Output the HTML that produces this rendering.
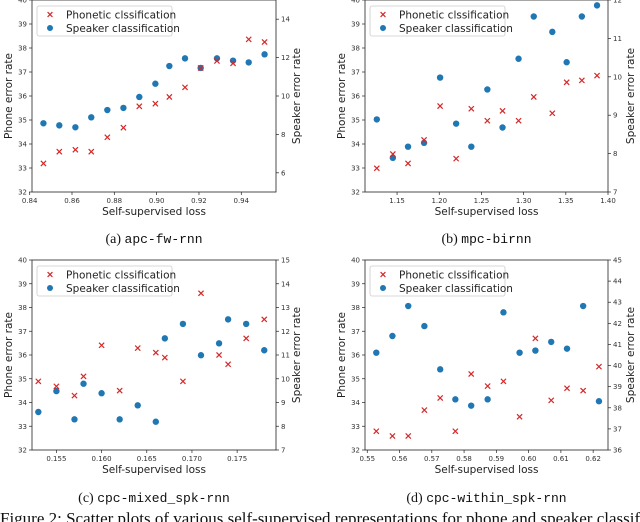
<!DOCTYPE html>
<html><head><meta charset="utf-8">
<style>
html,body{margin:0;padding:0;background:#fff;width:640px;height:522px;overflow:hidden}
svg{display:block}
text{font-family:"DejaVu Sans","Liberation Sans",sans-serif}
.cap{font-family:"Liberation Serif",serif;font-size:14px}
.mono{font-family:"Liberation Mono",monospace}
</style></head><body>
<svg id="fig" width="640" height="522" viewBox="0 0 640 522" xmlns="http://www.w3.org/2000/svg"></svg>
<script>
// Panel a: apc-fw-rnn
const aLoss=[0.8465,0.854,0.8616,0.8691,0.8767,0.8843,0.8918,0.8994,0.906,0.9134,0.9208,0.9285,0.9361,0.9435,0.951];
const aPhone=[33.19,33.68,33.76,33.68,34.28,34.68,35.57,35.68,35.96,36.36,37.17,37.46,37.36,38.36,38.25];
const aSpk=[8.58,8.47,8.37,8.89,9.27,9.38,9.95,10.64,11.56,11.96,11.46,11.96,11.84,11.75,12.17];
const aXTicks=[0.84,0.86,0.88,0.90,0.92,0.94];
const aRTicks=[6,8,10,12,14];
// Panel b: mpc-birnn
const bLoss=[1.126,1.145,1.163,1.182,1.201,1.220,1.238,1.257,1.275,1.294,1.312,1.334,1.351,1.369,1.387];
const bPhone=[32.99,33.58,33.19,34.17,35.58,33.39,35.47,34.97,35.38,34.97,35.96,35.28,36.57,36.65,36.85];
const bSpk=[8.89,7.89,8.18,8.28,9.98,8.78,8.18,9.67,8.68,10.47,11.57,11.17,10.38,11.57,11.86];
const bXTicks=[1.15,1.20,1.25,1.30,1.35,1.40];
const bRTicks=[7,8,9,10,11,12];
// Panel c: cpc-mixed_spk-rnn
const cLoss=[0.153,0.155,0.157,0.158,0.160,0.162,0.164,0.166,0.167,0.169,0.171,0.173,0.174,0.176,0.178];
const cPhone=[34.89,34.68,34.29,35.10,36.41,34.50,36.29,36.10,35.89,34.89,38.60,36.0,35.61,36.70,37.50];
const cSpk=[8.60,9.48,8.29,9.79,9.39,8.29,8.88,8.19,11.70,12.31,10.99,11.49,12.50,12.31,11.20];
const cXTicks=[0.155,0.160,0.165,0.170,0.175];
const cRTicks=[7,8,9,10,11,12,13,14,15];
// Panel d: cpc-within_spk-rnn
const dLoss=[0.5528,0.5578,0.5627,0.5677,0.5726,0.5773,0.5822,0.5873,0.5922,0.5972,0.6021,0.607,0.6119,0.6169,0.6218];
const dPhone=[32.79,32.59,32.59,33.68,34.19,32.79,35.2,34.69,34.89,33.40,36.70,34.09,34.60,34.50,35.51];
const dSpk=[40.61,41.40,42.82,41.87,39.82,38.40,38.10,38.40,42.52,40.61,40.71,41.12,40.80,42.82,38.31];
const dXTicks=[0.55,0.56,0.57,0.58,0.59,0.60,0.61,0.62];
const dRTicks=[36,37,38,39,40,41,42,43,44,45];
const lTicks=[32,33,34,35,36,37,38,39,40];

const NS="http://www.w3.org/2000/svg";
const svg=document.getElementById('fig');
function mk(tag,attrs,parent){const e=document.createElementNS(NS,tag);for(const k in attrs)e.setAttribute(k,attrs[k]);(parent||svg).appendChild(e);return e;}

function panel(p){
  const g=mk('g',{});
  
  
  const L=p.L,R=p.R,T=p.T,B=p.B;
  const sx=v=>L+(v-p.x0)/(p.x1-p.x0)*(R-L);
  const sy=v=>B-(v-32)/8*(B-T);
  const sr=v=>B-(v-p.r0)/(p.r1-p.r0)*(B-T);
  const frame=mk('rect',{x:L,y:T,width:R-L,height:B-T,fill:'none',stroke:'#222','stroke-width':0.8},g);
  
  
  lTicks.forEach(v=>{const y=sy(v);mk('line',{x1:L-3,x2:L,y1:y,y2:y,stroke:'#222','stroke-width':0.7},g);
    const t=mk('text',{x:L-5,y:y+2.5,'font-size':7,'text-anchor':'end',fill:'#333'},g);t.textContent=v;
    
    });
  p.rt.forEach(v=>{const y=sr(v);mk('line',{x1:R,x2:R+3,y1:y,y2:y,stroke:'#222','stroke-width':0.7},g);
    const t=mk('text',{x:R+5,y:y+2.5,'font-size':7,fill:'#333'},g);t.textContent=v;
    
    });
  p.xt.forEach(v=>{const x=sx(v);mk('line',{x1:x,x2:x,y1:B,y2:B+3,stroke:'#222','stroke-width':0.7},g);
    const t=mk('text',{x:x,y:B+11,'font-size':7,'text-anchor':'middle',fill:'#333'},g);t.textContent=v.toFixed(p.dec);
    
    });
  const cx=(L+R)/2, cy=(T+B)/2;
  let t=mk('text',{x:cx,y:B+23,'font-size':10.5,'text-anchor':'middle',fill:'#222'},g);t.textContent='Self-supervised loss';
  
  
  t=mk('text',{x:0,y:0,'font-size':10.5,'text-anchor':'middle',fill:'#222',transform:`translate(${L-20},${cy}) rotate(-90)`},g);t.textContent='Phone error rate';
  
  
  t=mk('text',{x:0,y:0,'font-size':10.5,'text-anchor':'middle',fill:'#222',transform:`translate(${R+p.rOff},${cy}) rotate(-90)`},g);t.textContent='Speaker error rate';
  
  
  p.spk.forEach((v,i)=>{const c=mk('circle',{cx:sx(p.loss[i]),cy:sr(v),r:3.2,fill:'#1f77b4'},g);
    
    });
  p.phone.forEach((v,i)=>{const x=sx(p.loss[i]),y=sy(v),s=2.6;
    const m=mk('path',{d:`M${x-s},${y-s}L${x+s},${y+s}M${x-s},${y+s}L${x+s},${y-s}`,stroke:'#d62728','stroke-width':1.2},g);
    
    });
  const lx=L+5, ly=T+6;
  const lg=mk('g',{},g);
  
  
  mk('rect',{x:lx,y:ly,width:135,height:30,fill:'#fff',stroke:'#ccc','stroke-width':0.8,rx:2},lg);
  const s=2.4,mx=lx+13,my1=ly+8.5;
  const e1=mk('path',{d:`M${mx-s},${my1-s}L${mx+s},${my1+s}M${mx-s},${my1+s}L${mx+s},${my1-s}`,stroke:'#d62728','stroke-width':1.2},lg);
  
  
  t=mk('text',{x:lx+29,y:my1+3.8,'font-size':10.5,fill:'#222'},lg);t.textContent='Phonetic clssification';
  
  
  const e2=mk('circle',{cx:mx,cy:ly+22,r:3,fill:'#1f77b4'},lg);
  
  
  t=mk('text',{x:lx+29,y:ly+25.8,'font-size':10.5,fill:'#222'},lg);t.textContent='Speaker classification';
  
  
  t=mk('text',{x:cx,y:p.capY,'text-anchor':'middle',class:'cap',fill:'#111'},g);
  const a=mk('tspan',{},t);a.textContent=p.capL+' ';
  const b=mk('tspan',{class:'mono','font-size':13},t);b.textContent=p.capM;
  
  
}

panel({name:'panel-a-apc-fw-rnn',L:32,R:276,T:0,B:192,x0:0.8411,x1:0.9564,r0:5,r1:15,xt:aXTicks,rt:aRTicks,dec:2,loss:aLoss,phone:aPhone,spk:aSpk,rOff:24,capY:243,capL:'(a)',capM:'apc-fw-rnn'});
panel({name:'panel-b-mpc-birnn',L:365,R:608,T:0,B:192,x0:1.112,x1:1.400,r0:7,r1:12,xt:bXTicks,rt:bRTicks,dec:2,loss:bLoss,phone:bPhone,spk:bSpk,rOff:26,capY:243,capL:'(b)',capM:'mpc-birnn'});
panel({name:'panel-c-cpc-mixed-spk-rnn',L:32,R:276,T:260,B:450,x0:0.1523,x1:0.1793,r0:7,r1:15,xt:cXTicks,rt:cRTicks,dec:3,loss:cLoss,phone:cPhone,spk:cSpk,rOff:24,capY:502,capL:'(c)',capM:'cpc-mixed_spk-rnn'});
panel({name:'panel-d-cpc-within-spk-rnn',L:365,R:608,T:260,B:450,x0:0.5493,x1:0.6246,r0:36,r1:45,xt:dXTicks,rt:dRTicks,dec:2,loss:dLoss,phone:dPhone,spk:dSpk,rOff:26,capY:502,capL:'(d)',capM:'cpc-within_spk-rnn'});

const ft=mk('text',{x:0,y:524,style:'font-family:"Liberation Serif",serif;font-size:17px',fill:'#111'});
ft.textContent='Figure 2: Scatter plots of various self-supervised representations for phone and speaker classification';


</script>
</body></html>
